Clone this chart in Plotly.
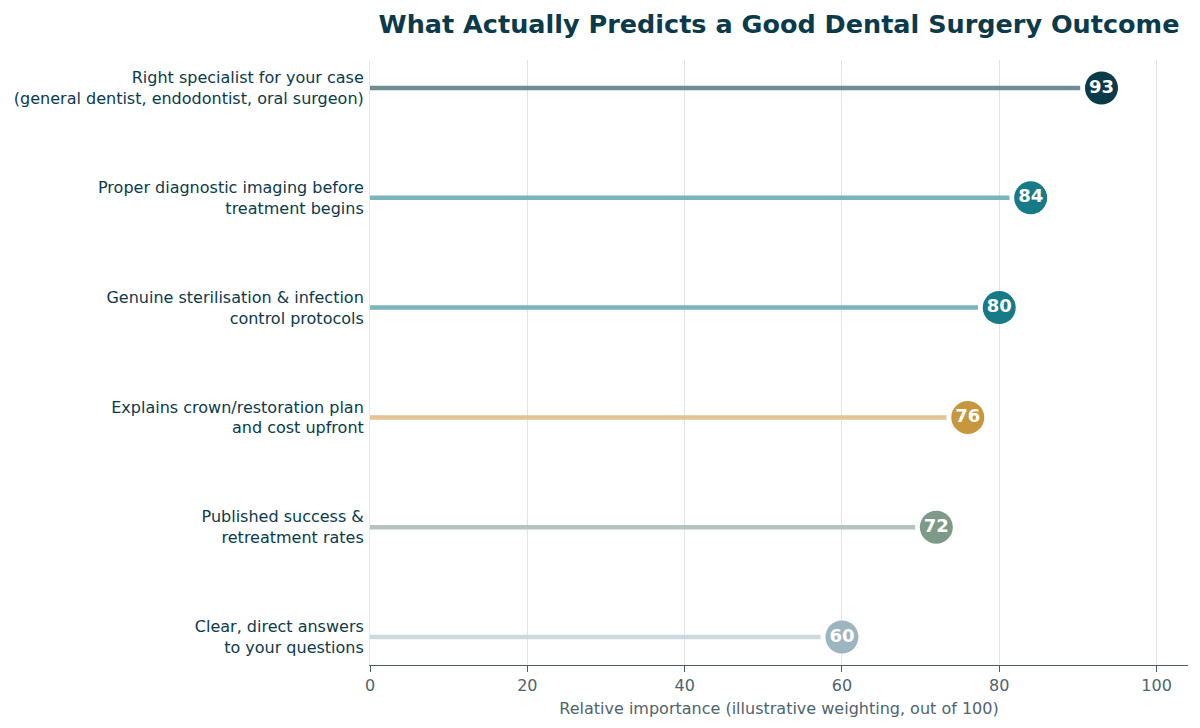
import plotly.graph_objects as go

# data, bottom to top
labels = [
    "Clear, direct answers<br>to your questions",
    "Published success &<br>retreatment rates",
    "Explains crown/restoration plan<br>and cost upfront",
    "Genuine sterilisation & infection<br>control protocols",
    "Proper diagnostic imaging before<br>treatment begins",
    "Right specialist for your case<br>(general dentist, endodontist, oral surgeon)",
]
scores = [60, 72, 76, 80, 84, 93]
dot_colors = ["#9db5bf", "#7c9a87", "#c8963e", "#167a87", "#167a87", "#0b3a4a"]
stem_colors = ["#cdd9de", "#b5c4bd", "#e2c590", "#7ab4bc", "#7ab4bc", "#6f8d93"]
tick_vals = [0, 20, 40, 60, 80, 100]

fig = go.Figure()

# stems (stop a bit short of the dot)
for i, (v, c) in enumerate(zip(scores, stem_colors)):
    fig.add_trace(go.Scatter(
        x=[0, v - 2.7], y=[i, i], mode="lines",
        line=dict(color=c, width=4.5), hoverinfo="skip", showlegend=False,
    ))

# dots with value inside
fig.add_trace(go.Scatter(
    x=scores, y=list(range(len(scores))), mode="markers+text",
    marker=dict(size=33, color=dot_colors, line=dict(width=0)),
    text=[str(v) for v in scores], textposition="middle center",
    textfont=dict(family="DejaVu Sans", size=18, color="white", weight="bold"),
    showlegend=False,
))

# page body has an 8px margin, so the figure is 8px smaller than the window
fig.update_layout(
    width=1192, height=720,
    paper_bgcolor="white", plot_bgcolor="white",
    margin=dict(l=362, r=12, t=52, b=63),
    font=dict(family="DejaVu Sans", color="#0b3a4a", size=16),
    title=dict(
        text="<b>What Actually Predicts a Good Dental Surgery Outcome</b>",
        x=(362 + 1180) / 2 / 1192, xanchor="center", y=1 - 16 / 720, yanchor="middle",
        font=dict(family="DejaVu Sans", size=25.5, color="#0b3a4a"),
    ),
    xaxis=dict(
        range=[0, 104], tickvals=tick_vals,
        showgrid=True, gridcolor="#dfe4e8", gridwidth=1,
        showline=True, linecolor="#4a5f68", linewidth=1.2,
        ticks="outside", ticklen=6, tickcolor="#4a5f68",
        tickfont=dict(size=16, color="#4f646c"),
        title=dict(text="Relative importance (illustrative weighting, out of 100)",
                   font=dict(size=16, color="#4f646c"), standoff=8),
        zeroline=False, automargin=False,
    ),
    yaxis=dict(
        range=[-0.255, 5.255],
        tickvals=list(range(len(labels))), ticktext=labels,
        showgrid=False, zeroline=False,
        showline=True, linecolor="#e6e9eb", linewidth=1,
        ticks="", ticklabelstandoff=2, automargin=False,
        tickfont=dict(size=16, color="#0b3a4a"),
    ),
)

fig.write_html("out.html")
